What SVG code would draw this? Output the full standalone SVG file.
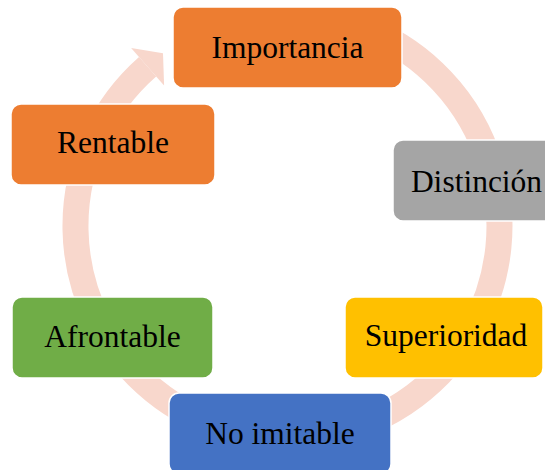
<svg xmlns="http://www.w3.org/2000/svg" width="545" height="470" viewBox="0 0 545 470">
  <style>
    .node rect { stroke: #FFFFFF; stroke-width: 1.5; }
    .node text { font-family: "Liberation Serif", "Times New Roman", serif; font-size: 31.5px; fill: #000000; text-anchor: middle; }
    .ring { fill: none; stroke: #F8D7CC; stroke-width: 26; }
    .head { fill: #F8D7CC; }
  </style>
  <rect x="0" y="0" width="545" height="470" fill="#FFFFFF"/>
  <g id="connectors">
    <path class="ring" d="M 360.0 26.8 A 212 212 0 1 1 147.6 66.7"/>
    <polygon class="head" points="131.1,47.9 163,53.2 164.1,85.5"/>
  </g>
  <g id="importancia" class="node">
    <rect x="173" y="7" width="229" height="81" rx="10" fill="#ED7D31"/>
    <text x="287.5" y="58">Importancia</text>
  </g>
  <g id="distincion" class="node">
    <rect x="393" y="140" width="170" height="81" rx="10" fill="#A5A5A5"/>
    <text x="476.5" y="192">Distinción</text>
  </g>
  <g id="superioridad" class="node">
    <rect x="345" y="297" width="198" height="81" rx="10" fill="#FFC000"/>
    <text x="446" y="346">Superioridad</text>
  </g>
  <g id="no-imitable" class="node">
    <rect x="169" y="393" width="222" height="81" rx="10" fill="#4472C4"/>
    <text x="280" y="444">No imitable</text>
  </g>
  <g id="afrontable" class="node">
    <rect x="12" y="297" width="201" height="81" rx="10" fill="#70AD47"/>
    <text x="112.5" y="347">Afrontable</text>
  </g>
  <g id="rentable" class="node">
    <rect x="11" y="104" width="204" height="81" rx="10" fill="#ED7D31"/>
    <text x="113" y="153">Rentable</text>
  </g>
</svg>
